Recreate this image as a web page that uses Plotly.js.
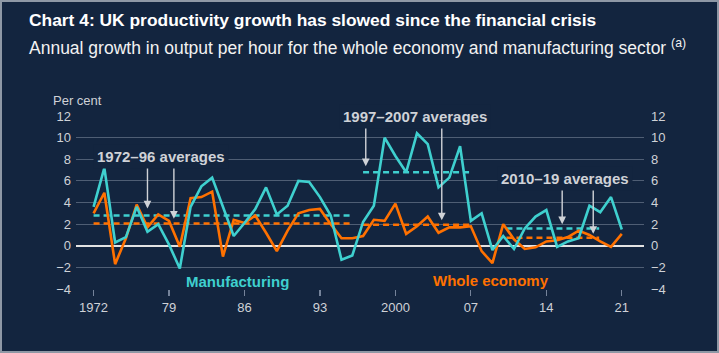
<!DOCTYPE html>
<html>
<head>
<meta charset="utf-8">
<script src="https://cdn.plot.ly/plotly-3.0.1.min.js"></script>
<style>
  html, body { margin: 0; padding: 0; background: #13253f; }
  #wrap { position: relative; width: 719px; height: 353px; }
  #chart { width: 719px; height: 353px; }
  #frame { position: absolute; left: 0; top: 0; width: 715px; height: 349px;
           border: 2px solid #8e98a5; pointer-events: none; }
</style>
</head>
<body>
<div id="wrap"><div id="chart"></div><div id="frame"></div></div>
<script>
// ---- data ----
const years = [1972,1973,1974,1975,1976,1977,1978,1979,1980,1981,
               1982,1983,1984,1985,1986,1987,1988,1989,1990,1991,
               1992,1993,1994,1995,1996,1997,1998,1999,2000,2001,
               2002,2003,2004,2005,2006,2007,2008,2009,2010,2011,
               2012,2013,2014,2015,2016,2017,2018,2019,2020,2021];
const manufacturing = [3.6,7.2,0.3,0.8,3.6,1.3,2.0,0.1,-2.1,3.6,
                       5.5,6.3,3.6,0.9,2.1,3.4,5.4,2.9,3.7,6.0,
                       5.9,4.5,2.8,-1.3,-0.9,2.2,3.7,10.0,8.3,6.8,
                       10.4,9.4,5.4,6.3,9.2,2.3,3.0,-0.4,0.9,-0.3,
                       1.6,2.7,3.3,-0.1,0.4,0.7,3.7,3.1,4.5,1.5];
const wholeEconomy = [3.0,4.9,-1.7,0.7,3.8,1.7,2.9,2.3,-0.1,4.4,
                      4.5,5.0,-1.0,2.4,2.1,2.8,1.2,-0.5,1.4,3.0,
                      3.3,3.4,2.0,0.7,0.7,0.9,2.4,2.3,3.9,1.1,
                      1.8,2.7,1.2,1.7,1.7,1.8,-0.5,-1.6,2.0,0.6,
                      -0.3,-0.15,0.4,0.5,0.8,1.4,1.0,0.4,-0.1,1.1];
const periodLabels = ['1972–96 averages','1997–2007 averages','2010–19 averages'];
const periodStart = [1972, 1997, 2010.3];
const periodEnd   = [1996, 2007, 2018.9];
const avgManufacturing = [2.8, 6.8, 1.6];
const avgWholeEconomy  = [2.05, 1.95, 0.75];
const tickVals  = [1972,1979,1986,1993,2000,2007,2014,2021];
const tickTexts = ['1972','79','86','93','2000','07','14','21'];
// annotation placement (label centre and arrow geometry)
const labelX = [1978.25, 2001.85, 2015.73];
const labelY = [8.25, 12.0, 6.25];
const arrowX    = [1977.0, 1979.45, 1997.25, 2004.3, 2015.47, 2018.35];
const arrowTip  = [3.45, 2.5, 7.35, 2.35, 2.0, 1.1];
const arrowTail = [7.35, 7.35, 11.1, 11.1, 5.3, 5.3];

const CYAN = '#3fd0cf', ORANGE = '#ff7100', BG = '#13253f';
const TXT = '#cfd2d7', GRID = '#4f5e74';
const FONT = 'Liberation Sans, Arial, sans-serif';

const traces = [];
for (let i = 0; i < periodLabels.length; i++) {
  traces.push({x: [periodStart[i], periodEnd[i]], y: [avgManufacturing[i], avgManufacturing[i]],
    mode: 'lines', line: {color: CYAN, width: 2.5, dash: '6px,4px'}, showlegend: false, hoverinfo: 'skip'});
  traces.push({x: [periodStart[i], periodEnd[i]], y: [avgWholeEconomy[i], avgWholeEconomy[i]],
    mode: 'lines', line: {color: ORANGE, width: 2.5, dash: '6px,4px'}, showlegend: false, hoverinfo: 'skip'});
}
traces.push({x: years, y: wholeEconomy, mode: 'lines', name: 'Whole economy',
  line: {color: ORANGE, width: 2.6}, showlegend: false});
traces.push({x: years, y: manufacturing, mode: 'lines', name: 'Manufacturing',
  line: {color: CYAN, width: 2.6}, showlegend: false});
// invisible trace to carry the right axis
traces.push({x: [years[0]], y: [0], yaxis: 'y2', mode: 'markers',
  marker: {opacity: 0}, showlegend: false, hoverinfo: 'skip'});

const annotations = [];
for (let i = 0; i < arrowX.length; i++) {
  annotations.push({x: arrowX[i], y: arrowTip[i], ax: arrowX[i], ay: arrowTail[i],
    xref: 'x', yref: 'y', axref: 'x', ayref: 'y', text: '', showarrow: true,
    arrowhead: 2, arrowsize: 1.1, arrowwidth: 1.4, arrowcolor: TXT});
}
for (let i = 0; i < periodLabels.length; i++) {
  annotations.push({x: labelX[i], y: labelY[i], xref: 'x', yref: 'y', text: '<b>' + periodLabels[i] + '</b>',
    showarrow: false, bgcolor: BG, borderpad: 3, font: {family: FONT, size: 15, color: TXT},
    xanchor: 'center', yanchor: 'middle'});
}
annotations.push({x: 1985.38, y: -3.3, xref: 'x', yref: 'y', text: '<b>Manufacturing</b>', showarrow: false,
  font: {family: FONT, size: 15, color: CYAN}});
annotations.push({x: 2008.9, y: -3.25, xref: 'x', yref: 'y', text: '<b>Whole economy</b>', showarrow: false,
  font: {family: FONT, size: 15, color: ORANGE}});
annotations.push({x: -0.044, y: 1.0906, xref: 'paper', yref: 'paper', text: 'Per cent', showarrow: false,
  xanchor: 'left', yanchor: 'middle', font: {family: FONT, size: 13, color: TXT}});
annotations.push({x: -0.0862, y: 1.3964, xref: 'paper', yref: 'paper',
  text: 'Annual growth in output per hour for the whole economy and manufacturing sector <sup>(a)</sup>',
  showarrow: false, xanchor: 'left', yanchor: 'middle', font: {family: FONT, size: 17.5, color: '#f2f2f2'}});

const yax = {range: [-4, 12], dtick: 2, tick0: 0, showgrid: true, gridcolor: GRID, gridwidth: 1.2,
  zeroline: true, zerolinecolor: '#e2e2e2', zerolinewidth: 2, showline: false, ticks: '',
  tickfont: {family: FONT, size: 13, color: TXT}, fixedrange: true};

const layout = {
  width: 719, height: 353,
  paper_bgcolor: BG, plot_bgcolor: BG,
  margin: {l: 76, r: 74.5, t: 115.7, b: 64},
  title: {text: '<b>Chart 4: UK productivity growth has slowed since the financial crisis</b>',
    x: 29/719, xanchor: 'left', xref: 'container', y: 1 - 20/353, yanchor: 'middle', yref: 'container',
    font: {family: FONT, size: 17.4, color: '#ffffff'}},
  xaxis: {range: [1970.37, 2023.06], tickvals: tickVals, ticktext: tickTexts, showgrid: false,
    zeroline: false, showline: false, ticks: 'outside', ticklen: 6, tickwidth: 1.2, tickcolor: '#75839a',
    tickfont: {family: FONT, size: 13, color: TXT}, fixedrange: true},
  yaxis: Object.assign({}, yax, {ticklabelstandoff: 4}),
  yaxis2: Object.assign({}, yax, {overlaying: 'y', side: 'right', showgrid: false, zeroline: false,
    ticklabelstandoff: 6}),
  annotations: annotations,
  showlegend: false
};

Plotly.newPlot('chart', traces, layout, {staticPlot: true, displayModeBar: false});
</script>
</body>
</html>
